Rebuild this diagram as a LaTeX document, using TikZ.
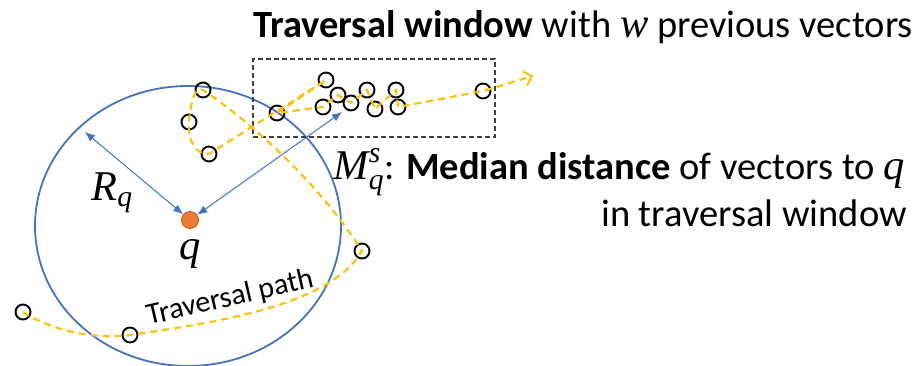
\RequirePackage{fix-cm}
\documentclass[tikz,border=0pt]{standalone}
\usepackage{amsmath}
\usepackage{fontspec}
\setmainfont{Carlito}
\newfontfamily\mathlet{Liberation Serif}[UprightFont=* Italic,Scale=1.1]
\newcommand{\mv}[1]{\text{\mathlet #1}}
\usetikzlibrary{arrows.meta}
\definecolor{pathyel}{HTML}{FFC000}
\definecolor{cblue}{HTML}{4472C4}
\definecolor{qorange}{HTML}{ED7D31}
\definecolor{qedge}{HTML}{C55A11}
\definecolor{boxgray}{HTML}{404040}
\begin{document}
\begin{tikzpicture}[x=1pt,y=-1pt,
  vec/.style={circle,draw=black,line width=1.9pt,minimum size=15pt,inner sep=0pt},
  trav/.style={draw=pathyel,line width=2.1pt,dash pattern=on 7pt off 5pt},
  radarrow/.style={draw=cblue,line width=1pt,{Latex[length=10pt,width=8pt]}-{Latex[length=10pt,width=8pt]}},
  lbl/.style={font=\fontsize{38.5}{46}\selectfont,inner sep=0pt}]
\useasboundingbox (0,0) rectangle (923,366);
% query circle
\draw[cblue,line width=1.8pt] (188,226) ellipse [x radius=153, y radius=140];
% traversal window
\node[draw=boxgray,line width=1.8pt,dash pattern=on 5pt off 3pt,minimum width=242pt,minimum height=78pt,inner sep=0pt] (win) at (374,98) {};
% vectors
\node[vec] (v1) at (23,312) {};
\node[vec] (v2) at (130,335) {};
\node[vec] (v3) at (362,251) {};
\node[vec] (v4) at (203,90) {};
\node[vec] (v5) at (189,122) {};
\node[vec] (v6) at (209,154) {};
\node[vec] (v7) at (326,80) {};
\node[vec] (v8) at (277,113) {};
\node[vec] (v9) at (323,107) {};
\node[vec] (v10) at (338,95) {};
\node[vec] (v11) at (351,103) {};
\node[vec] (v12) at (367,90) {};
\node[vec] (v13) at (375,109) {};
\node[vec] (v14) at (396,90) {};
\node[vec] (v15) at (398,107) {};
\node[vec] (v16) at (483,91) {};
\coordinate (pend) at (533,76);
% traversal path
\draw[trav,-{Straight Barb[length=7pt,width=15pt,line width=2pt]}]
  (v1.center) .. controls (50,330) and (95,340) .. (v2.center)
  .. controls (220,322) and (330,305) .. (v3.center)
  .. controls (320,185) and (255,125) .. (v4.center)
  .. controls (195,86) and (191,100) .. (v5.center)
  .. controls (188,142) and (195,154) .. (v6.center)
  -- (v7.center) -- (v8.center) -- (v9.center) -- (v10.center)
  -- (v11.center) -- (v12.center) -- (v13.center) -- (v14.center)
  -- (v15.center) -- (v16.center) -- (pend);
% query point
\node[circle,fill=qorange,draw=qedge,line width=0.8pt,minimum size=17pt,inner sep=0pt] (qdot) at (190,220) {};
\coordinate (rtip) at (85,132);
\coordinate (mtip) at (342,112);
\draw[radarrow] (rtip) -- (qdot);
\draw[radarrow] (mtip) -- (qdot);
% labels
\node[lbl] (rq) at (112,193) {$\mv{R}_{\mv{q}}$};
\node[lbl] (ql) at (190,254) {$\mv{q}$};
\node[font=\fontsize{30}{36}\selectfont,rotate=13,inner sep=0pt] (tp) at (230,298) {Traversal path};
\node[lbl,anchor=base east] (title) at (913,38) {\textbf{Traversal window} with $\mv{w}$ previous vectors};
\node[lbl,anchor=base east] (med1) at (905,180) {$\mv{M}_{\mv{q}}^{\mv{s}}$: \textbf{Median distance} of vectors to $\mv{q}$};
\node[lbl,anchor=base east] (med2) at (907,226) {in traversal window};
\end{tikzpicture}
\end{document}
